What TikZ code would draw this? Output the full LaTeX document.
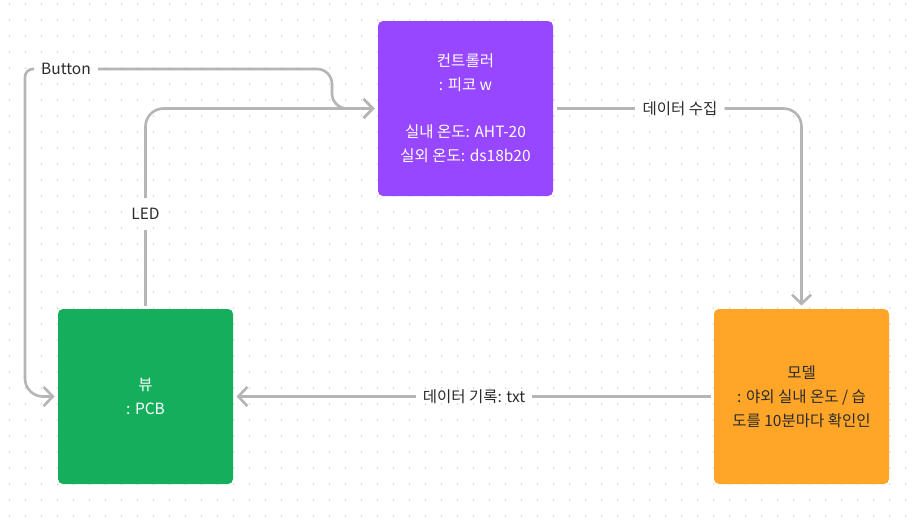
\documentclass[tikz,border=0pt]{standalone}
\usepackage{fontspec}
\setmainfont{Noto Sans CJK KR}
\usetikzlibrary{arrows.meta}
\definecolor{ctrlpurple}{HTML}{9747FF}
\definecolor{viewgreen}{HTML}{14AE5C}
\definecolor{modelorange}{HTML}{FFA629}
\definecolor{wiregray}{HTML}{B5B5B5}
\definecolor{dotgray}{HTML}{DCDCDC}
\definecolor{inkgray}{HTML}{2B2B2B}
\tikzset{
  box/.style={rectangle, rounded corners=5pt, minimum width=175pt, minimum height=175pt,
    align=center, outer sep=3.5pt, font=\fontsize{15.5}{24}\selectfont},
  wire/.style={draw=wiregray, line width=2.6pt, rounded corners=18pt},
  tag/.style={inner xsep=7pt, inner ysep=10pt, text=inkgray, font=\fontsize{15.5}{18}\selectfont},
}

\begin{document}
\begin{tikzpicture}[x=1pt, y=-1pt, >={Straight Barb[length=9pt,width=19pt]}]
\fill[white] (0,0) rectangle (912,525);
\foreach \gx in {9.5,25.5,...,905.5}
  \foreach \gy in {4,20,...,516}
    \fill[dotgray] (\gx,\gy) circle (1pt);

\node[box, fill=ctrlpurple, text=white] (ctrl) at (465.5,108.5)
  {컨트롤러\\: 피코 w\\[23pt]실내 온도: AHT-20\\실외 온도: ds18b20};
\node[box, fill=viewgreen, text=white] (view) at (145.5,396.5) {뷰\\: PCB};
\node[box, fill=modelorange, text=inkgray] (model) at (801.5,396.5)
  {모델\\: 야외 실내 온도 / 습\\도를 10분마다 확인인};

\node[tag] (btn) at (66,69) {Button};
\node[tag] (led) at (145.5,214) {LED};
\node[tag] (collect) at (680,108.5) {데이터 수집};
\node[tag] (record) at (474,396.5) {데이터 기록: txt};

\coordinate (topleft) at (25,69);
\coordinate (sbend) at (332,69);
\coordinate (ledturn) at (145.5,108.5);

% button
\draw[wire, ->, rounded corners=8pt] (btn.west) -- (topleft) [rounded corners=18pt] |- (view.west);
\draw[wire, ->, rounded corners=15pt] (btn.east) -- (sbend) |- (ctrl.west);
% led
\draw[wire, ->] (led.north) -- (ledturn) -- (ctrl.west);
\draw[wire] (led.south) -- (view.north);
% data flow
\draw[wire] (ctrl.east) -- (collect.west);
\draw[wire, ->] (collect.east) -| (model.north);
\draw[wire] (model.west) -- (record.east);
\draw[wire, ->] (record.west) -- (view.east);
\end{tikzpicture}
\end{document}
